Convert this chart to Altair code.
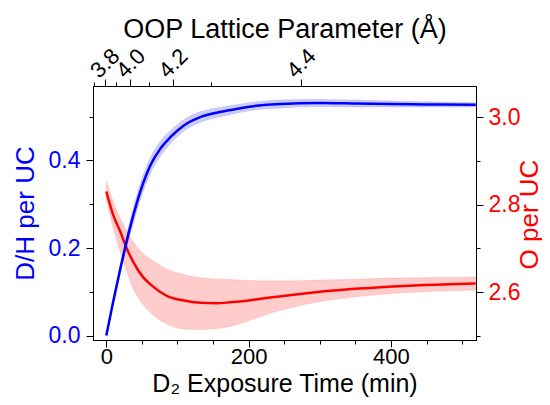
import altair as alt
import pandas as pd

# ---------------- data ----------------
# D/H per UC (blue, left axis)
dh_time = [0, 10, 20, 29, 38, 48, 62, 76, 90, 109, 132, 155, 174, 207, 245, 300, 350, 400, 450, 519]
dh_value = [0.000, 0.080, 0.155, 0.218, 0.275, 0.330, 0.389, 0.427, 0.453, 0.480, 0.499, 0.509,
            0.515, 0.524, 0.529, 0.531, 0.530, 0.529, 0.528, 0.527]
dh_low = [-0.002, 0.074, 0.145, 0.204, 0.258, 0.312, 0.371, 0.410, 0.438, 0.467, 0.487, 0.498,
          0.505, 0.515, 0.520, 0.523, 0.522, 0.522, 0.522, 0.522]
dh_high = [0.002, 0.086, 0.165, 0.232, 0.292, 0.348, 0.407, 0.444, 0.468, 0.493, 0.511, 0.520,
           0.525, 0.533, 0.538, 0.539, 0.538, 0.536, 0.534, 0.532]

# O per UC (red, right axis)
o_time = [0, 10, 20, 29, 38, 52, 62, 85, 109, 132, 155, 174, 200, 230, 260, 300, 340, 370, 440, 519]
o_value = [2.830, 2.775, 2.737, 2.699, 2.669, 2.634, 2.618, 2.592, 2.581, 2.576, 2.575, 2.577,
           2.581, 2.588, 2.594, 2.601, 2.607, 2.610, 2.616, 2.620]
o_low = [2.812, 2.745, 2.691, 2.646, 2.608, 2.572, 2.554, 2.528, 2.516, 2.515, 2.517, 2.522,
         2.535, 2.552, 2.565, 2.579, 2.588, 2.593, 2.601, 2.605]
o_high = [2.853, 2.806, 2.768, 2.740, 2.714, 2.688, 2.676, 2.653, 2.640, 2.633, 2.630, 2.629,
          2.627, 2.626, 2.626, 2.628, 2.629, 2.631, 2.633, 2.635]

# top axis: OOP lattice parameter ticks (label, position on the time axis)
lattice_labels = ["3.7", "3.8", "3.9", "4.0", "4.1", "4.2", "4.3", "4.4"]
lattice_times = [-17.9, -2.4, 13.6, 33.7, 59.4, 93.7, 146.5, 273.5]
lattice_shown = ["3.8", "4.0", "4.2", "4.4"]

time_ticks = [0, 50, 100, 150, 200, 250, 300, 350, 400, 450, 500]
dh_ticks = [0.0, 0.1, 0.2, 0.3, 0.4, 0.5]
o_ticks = [2.5, 2.6, 2.7, 2.8, 2.9, 3.0]

x_domain = [-18.7, 519.5]
dh_domain = [-0.010, 0.570]
o_domain = [2.491, 3.071]

# ---------------- styling ----------------
FONT = "Liberation Sans"
BLUE = "#0000ff"
RED = "#ff0000"
LABEL_SIZE = 23
MAJOR, MINOR = 7, 4


def tick_size(minor_test):
    return {"condition": {"test": minor_test, "value": MINOR}, "value": MAJOR}


blue_df = pd.DataFrame({"t": dh_time, "v": dh_value, "lo": dh_low, "hi": dh_high})
red_df = pd.DataFrame({"t": o_time, "v": o_value, "lo": o_low, "hi": o_high})

x_scale = alt.Scale(domain=x_domain, nice=False, zero=False)

bottom_axis = alt.Axis(
    orient="bottom", values=time_ticks, grid=False, labelFlush=False, labelOverlap=False,
    labelExpr="datum.value % 200 == 0 ? datum.label : ''",
    tickSize=tick_size("datum.value % 200 != 0"),
    labelFontSize=22, labelBaseline="alphabetic", labelPadding=16.5,
    title="D\u2082 Exposure Time (min)", titleFontSize=25,
    titleBaseline="alphabetic", titleY=51.5, titleAlign="center",
)

top_label_expr = "".join(
    f"datum.value == {t} ? '{lab}' : "
    for t, lab in zip(lattice_times, lattice_labels) if lab in lattice_shown
) + "''"
top_minor_test = " || ".join(
    f"datum.value == {t}" for t, lab in zip(lattice_times, lattice_labels) if lab not in lattice_shown
)
top_axis = alt.Axis(
    orient="top", values=lattice_times, grid=False, labelFlush=False, labelOverlap=False,
    labelExpr=top_label_expr, tickSize=tick_size(top_minor_test),
    labelFontSize=22, labelAngle=315, labelAlign="center", labelBaseline="middle",
    labelPadding=16,
    title="OOP Lattice Parameter (\u00c5)", titleFontSize=27,
    titleBaseline="alphabetic", titleY=-49, titleAlign="center",
)

left_axis = alt.Axis(
    orient="left", values=dh_ticks, format=".1f", grid=False, labelFlush=False,
    labelOverlap=False,
    labelExpr="round(datum.value * 10) % 2 == 0 ? datum.label : ''",
    tickSize=tick_size("round(datum.value * 10) % 2 == 1"),
    labelFontSize=LABEL_SIZE, labelColor=BLUE, labelPadding=6,
    title="D/H per UC", titleColor=BLUE, titleFontSize=26,
    titleAngle=270, titleBaseline="alphabetic", titleAlign="center",
    titleX=-60, titleY=127,
)

right_axis = alt.Axis(
    orient="right", values=o_ticks, format=".1f", grid=False, labelFlush=False,
    labelOverlap=False,
    labelExpr="round(datum.value * 10) % 2 == 0 ? datum.label : ''",
    tickSize=tick_size("round(datum.value * 10) % 2 == 1"),
    labelFontSize=LABEL_SIZE, labelColor=RED, labelPadding=5,
    title="O per UC", titleColor=RED, titleFontSize=26,
    titleAngle=270, titleBaseline="alphabetic", titleAlign="center",
    titleX=61, titleY=128,
)

dh_scale = alt.Scale(domain=dh_domain, nice=False, zero=False)
o_scale = alt.Scale(domain=o_domain, nice=False, zero=False)

blue_band = alt.Chart(blue_df).mark_area(
    interpolate="monotone", fill=BLUE, fillOpacity=0.2, stroke=BLUE, strokeOpacity=0.12, strokeWidth=1
).encode(
    x=alt.X("t:Q", scale=x_scale, axis=bottom_axis),
    y=alt.Y("lo:Q", scale=dh_scale, axis=left_axis),
    y2="hi:Q",
)
blue_line = alt.Chart(blue_df).mark_line(
    interpolate="monotone", color=BLUE, strokeWidth=2.5
).encode(
    x=alt.X("t:Q", scale=x_scale, axis=bottom_axis),
    y=alt.Y("v:Q", scale=dh_scale, axis=left_axis),
)

red_band = alt.Chart(red_df).mark_area(
    interpolate="monotone", fill=RED, fillOpacity=0.2, stroke=RED, strokeOpacity=0.12, strokeWidth=1
).encode(
    x=alt.X("t:Q", scale=x_scale, axis=top_axis),
    y=alt.Y("lo:Q", scale=o_scale, axis=right_axis),
    y2="hi:Q",
)
red_line = alt.Chart(red_df).mark_line(
    interpolate="monotone", color=RED, strokeWidth=2.5
).encode(
    x=alt.X("t:Q", scale=x_scale, axis=top_axis),
    y=alt.Y("v:Q", scale=o_scale, axis=right_axis),
)

red_layer = alt.layer(red_band, red_line)
blue_layer = alt.layer(blue_band, blue_line)

chart = alt.layer(red_layer, blue_layer).resolve_scale(
    y="independent"
).resolve_axis(
    x="independent", y="independent"
).properties(
    width=383, height=254,
    padding={"left": 85, "top": 78, "right": 66, "bottom": 57},
    autosize=alt.AutoSizeParams(type="none"),
).configure_view(
    stroke="black", strokeWidth=1
).configure_axis(
    domainColor="black", domainWidth=1, tickColor="black", tickWidth=1,
    labelFont=FONT, titleFont=FONT, labelColor="black", titleColor="black",
    titleFontWeight="normal",
)

chart.save("out.html", embed_options={"renderer": "svg", "actions": False})
